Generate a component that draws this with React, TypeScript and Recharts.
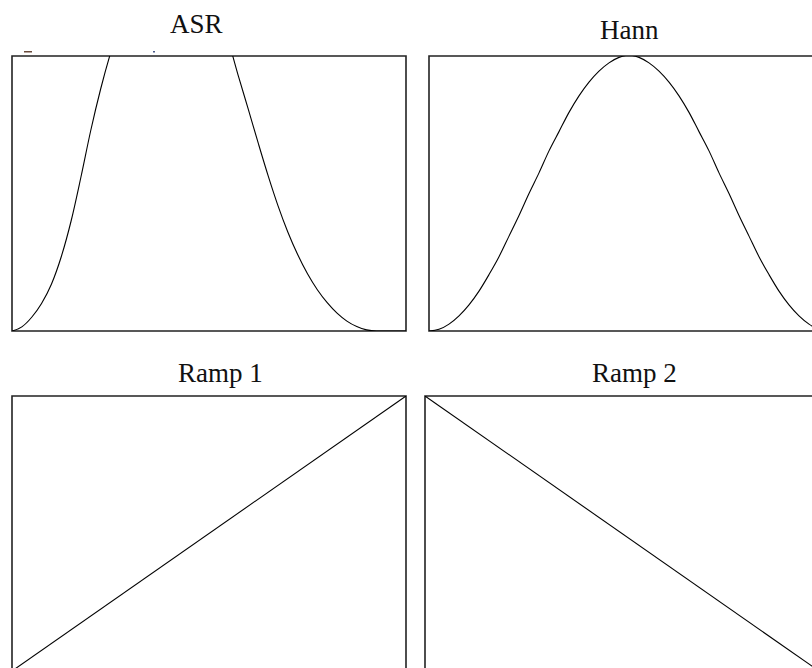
import React from "react";
import { LineChart, Line, XAxis, YAxis, ReferenceArea } from "recharts";

// sample positions (percent of window length)
const positions = [
  0, 2.5, 5, 7.5, 10, 12.5, 15, 17.5, 20, 22.5, 25, 27.5, 30, 32.5, 35, 37.5, 40,
  42.5, 45, 47.5, 50, 52.5, 55, 57.5, 60, 62.5, 65, 67.5, 70, 72.5, 75, 77.5, 80,
  82.5, 85, 87.5, 90, 92.5, 95, 97.5, 100,
];

const asrValues = [
  0, 0.015, 0.05, 0.1, 0.17, 0.27, 0.4, 0.56, 0.73, 0.88, 1.01, 1.12, 1.21, 1.29,
  1.35, 1.38, 1.39, 1.38, 1.35, 1.3, 1.23, 1.15, 1.05, 0.925, 0.805, 0.683, 0.565,
  0.456, 0.36, 0.278, 0.208, 0.15, 0.103, 0.065, 0.036, 0.016, 0.004, 0, 0, 0, 0,
];

const hannValues = [
  0, 0.006, 0.025, 0.055, 0.095, 0.145, 0.205, 0.27, 0.345, 0.42, 0.5, 0.575,
  0.655, 0.725, 0.795, 0.855, 0.905, 0.945, 0.975, 0.995, 1.003, 0.995, 0.975,
  0.945, 0.905, 0.855, 0.795, 0.725, 0.655, 0.575, 0.5, 0.42, 0.345, 0.27, 0.205,
  0.145, 0.095, 0.055, 0.025, 0.006, 0,
];

const rampPositions = [0, 100];
const ramp1Values = [0, 1];
const ramp2Values = [1, 0];

const titles = ["ASR", "Hann", "Ramp 1", "Ramp 2"];

const build = (xs: number[], ys: number[]) => xs.map((x, i) => ({ x, y: ys[i] }));

const M = 2;

type PanelProps = {
  left: number;
  top: number;
  width: number;
  height: number;
  data: { x: number; y: number }[];
  curve: "monotone" | "linear";
};

function Panel({ left, top, width, height, data, curve }: PanelProps) {
  return (
    <div style={{ position: "absolute", left, top }}>
      <LineChart
        width={width + 2 * M}
        height={height + 2 * M}
        data={data}
        margin={{ top: M, right: M, bottom: M, left: M }}
      >
        <XAxis dataKey="x" type="number" domain={[0, 100]} hide allowDataOverflow />
        <YAxis type="number" domain={[0, 1]} hide allowDataOverflow />
        <ReferenceArea
          x1={0}
          x2={100}
          y1={0}
          y2={1}
          fill="none"
          fillOpacity={0}
          stroke="#222"
          strokeWidth={1.6}
        />
        <Line
          dataKey="y"
          type={curve}
          stroke="#000"
          strokeWidth={1.1}
          dot={false}
          activeDot={false}
          isAnimationActive={false}
        />
      </LineChart>
    </div>
  );
}

export default function App() {
  const font = "'Liberation Serif', 'Times New Roman', serif";
  return (
    <div
      style={{
        position: "absolute",
        left: 0,
        top: 0,
        width: 812,
        height: 668,
        overflow: "hidden",
        background: "#fff",
      }}
    >
      <Panel left={11.5 - M} top={55.5 - M} width={394} height={275} data={build(positions, asrValues)} curve="monotone" />
      <Panel left={428.5 - M} top={55.5 - M} width={400} height={275} data={build(positions, hannValues)} curve="monotone" />
      <Panel left={11.5 - M} top={395.5 - M} width={394} height={275} data={build(rampPositions, ramp1Values)} curve="linear" />
      <Panel left={424.5 - M} top={395.5 - M} width={394} height={275} data={build(rampPositions, ramp2Values)} curve="linear" />
      <svg
        width={812}
        height={668}
        style={{ position: "absolute", left: 0, top: 0, pointerEvents: "none" }}
      >
        <g fontFamily={font} fontSize={27} fill="#111">
          <text x={170} y={33}>{titles[0]}</text>
          <text x={600} y={38.5}>{titles[1]}</text>
          <text x={178} y={381.5}>{titles[2]}</text>
          <text x={592} y={382}>{titles[3]}</text>
        </g>
        <rect x={24} y={51} width={8} height={1.5} fill="#6a4a3a" />
        <rect x={153} y={51} width={2} height={1.5} fill="#4a5a8a" />
      </svg>
    </div>
  );
}
